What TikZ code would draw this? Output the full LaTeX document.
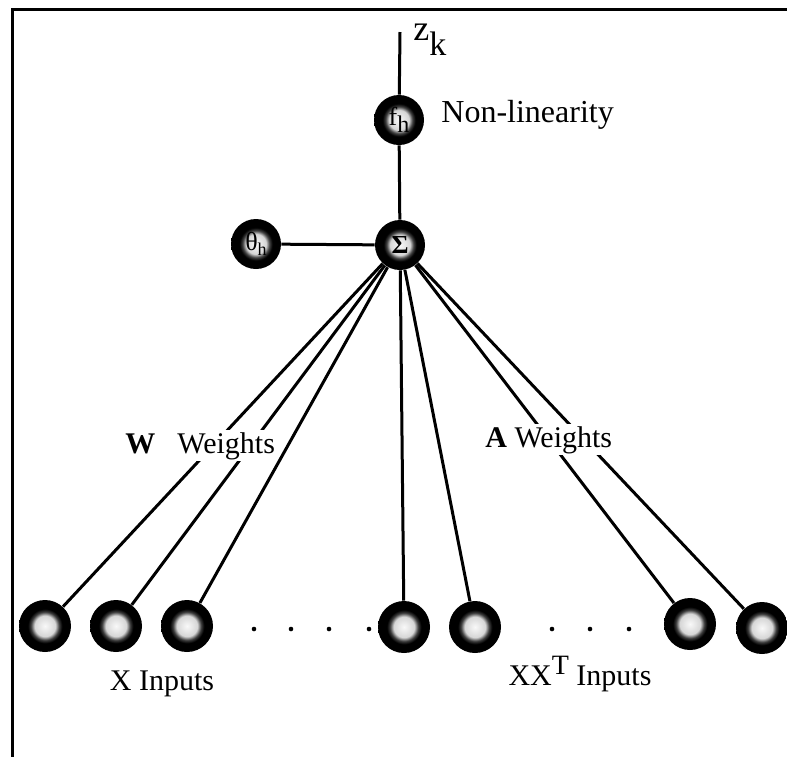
\documentclass[tikz,border=0pt]{standalone}
\usepackage{fontspec}
\setmainfont{Liberation Serif}

% dark rim, pale centre
\pgfdeclareradialshading{netball}{\pgfpoint{0bp}{0bp}}{%
  color(0bp)=(white!95!gray); color(10bp)=(white!68!gray); color(13.5bp)=(gray!50!black);
  color(16.5bp)=(black); color(50bp)=(black)}

\tikzset{
  unit/.style={circle, shading=netball, minimum size=25pt, inner sep=0pt,
    font=\fontsize{13}{14}\selectfont},
  input/.style={circle, shading=netball, minimum size=26pt, inner sep=0pt},
  link/.style={line width=1.5pt},
  lbl/.style={font=\fontsize{15}{18}\selectfont, inner sep=1pt},
  onlines/.style={lbl, fill=white},
}

\begin{document}
\begin{tikzpicture}[x=0.5pt, y=-0.5pt]
\useasboundingbox (0,0) rectangle (787,757);

% frame
	\draw[line width=1.4pt] (787,9.5) -- (12.5,9.5) -- (12.5,757);

% output side
	\node[unit] (nonlin) at (399,120) {f\raisebox{-0.6ex}{\fontsize{12}{13}\selectfont h}};
	\node[unit] (sum) at (400,245) {\textbf{Σ}};
	\node[unit] (bias) at (256,244) {θ\raisebox{-0.4ex}{\fontsize{9}{10}\selectfont h}};
	\coordinate (out) at (400,32);
	\node[lbl, anchor=base west, inner sep=0pt, font=\fontsize{18}{20}\selectfont]
		at (413,40) {z\raisebox{-7.5pt}{\fontsize{17}{19}\selectfont k}};
	\node[lbl, anchor=base west, inner sep=0pt, font=\fontsize{16}{19}\selectfont]
		at (441,122) {Non-linearity};

	\draw[link] (out) -- (nonlin);
	\draw[link] (nonlin) -- (sum);
	\draw[link] (bias) -- (sum);

% inputs
	\node[input] (in1) at (45,626) {};
	\node[input] (in2) at (116,626) {};
	\node[input] (in3) at (187,626) {};
	\node[input] (in4) at (404,627) {};
	\node[input] (in5) at (475,627) {};
	\node[input] (in6) at (690,624) {};
	\node[input] (in7) at (762,628) {};

	\foreach \i in {1,...,7}
		\draw[link] (sum) -- (in\i);

	\foreach \x in {254,291,329,369}
		\fill (\x,629) circle (2.3);
	\foreach \x in {552,590,629}
		\fill (\x,629) circle (2.3);

% labels
	\node[onlines, anchor=base west] at (123,453) {\textbf{W}};
	\node[onlines, anchor=base west] at (175,453) {Weights};
	\node[onlines, anchor=base west] at (483,447) {\textbf{A} Weights};
	\node[lbl, anchor=base] at (162,690) {X Inputs};
	\node[lbl, anchor=base] at (580,685)
		{XX\raisebox{0.8ex}{\fontsize{14}{16}\selectfont T} Inputs};

\end{tikzpicture}
\end{document}
